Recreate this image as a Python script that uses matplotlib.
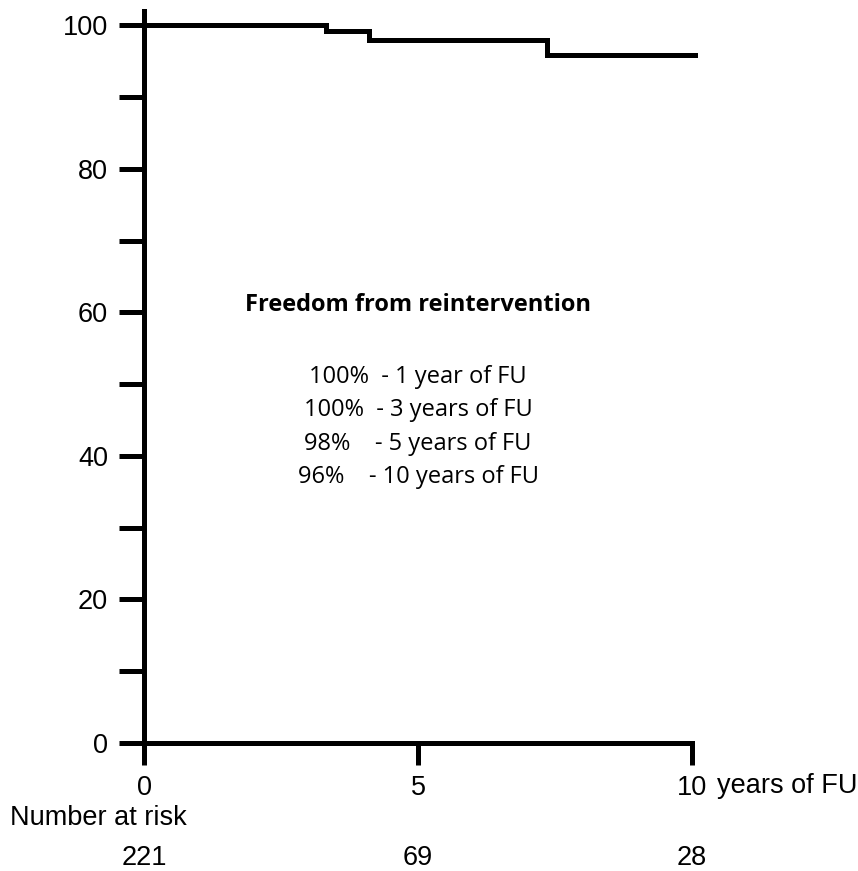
import matplotlib
matplotlib.use("Agg")
import matplotlib.pyplot as plt
from matplotlib.ticker import MultipleLocator

# Kaplan-Meier step curve
years = [0, 3.32, 4.11, 7.35, 10.05]
freedom = [100, 99.2, 97.9, 95.8, 95.8]

x_ticks = [0, 5, 10]
y_ticks = [0, 20, 40, 60, 80, 100]
at_risk = [221, 69, 28]

title = "Freedom from reintervention"
summary = ["100%  - 1 year of FU",
           "100%  - 3 years of FU",
           "98%    - 5 years of FU",
           "96%    - 10 years of FU"]
summary_y = [51.0, 46.4, 41.7, 37.1]

narrow = ["Liberation Sans", "DejaVu Sans"]
body = ["Open Sans", "DejaVu Sans"]
fs = 19.5

fig = plt.figure(figsize=(8.58, 8.71), dpi=100)
ax = fig.add_axes([144 / 858, 128 / 871, 548 / 858, (743 - 11) / 871])

ax.plot(years, freedom, drawstyle="steps-post", color="black", lw=3.6,
        solid_joinstyle="miter", clip_on=False)

ax.set_xlim(0, 10)
ax.set_ylim(0, 102)
for s in ["top", "right"]:
    ax.spines[s].set_visible(False)
for s in ["left", "bottom"]:
    ax.spines[s].set_linewidth(3.6)
ax.spines["bottom"].set_bounds(0, 10)

ax.set_xticks(x_ticks)
ax.set_yticks(y_ticks)
ax.yaxis.set_minor_locator(MultipleLocator(10))
ax.tick_params(axis="y", which="both", direction="out", length=18, width=3.6, pad=8)
ax.tick_params(axis="x", direction="out", length=16, width=3.6, pad=7)
for lab in ax.get_xticklabels() + ax.get_yticklabels():
    lab.set_family(narrow)
    lab.set_fontsize(fs)

ax.text(10.45, -6.0, "years of FU", fontsize=fs, family=narrow,
        ha="left", va="center", clip_on=False)
ax.text(-2.45, -10.5, "Number at risk", fontsize=fs, family=narrow,
        ha="left", va="center", clip_on=False)
for x, n in zip(x_ticks, at_risk):
    ax.text(x, -16.0, str(n), fontsize=fs, family=narrow,
            ha="center", va="center", clip_on=False)

ax.text(5.0, 61.0, title, fontsize=17, fontweight="bold", family=body,
        ha="center", va="center")
for s, y in zip(summary, summary_y):
    ax.text(5.0, y, s, fontsize=17, family=body, ha="center", va="center")

fig.savefig("out.png", dpi=100)
